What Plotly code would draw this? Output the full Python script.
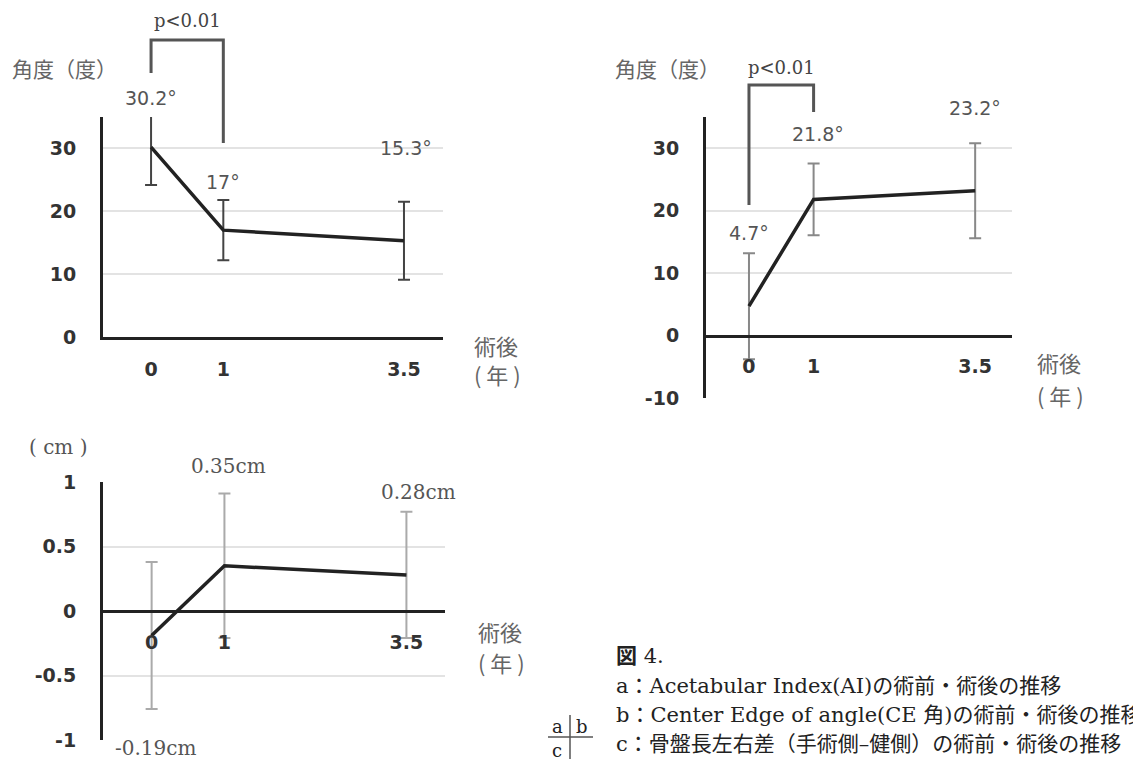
import plotly.graph_objects as go

W, H = 1141, 759
OFF = 8  # page body margin in the browser

# ---------------- data ----------------
years = [0, 1, 3.5]
year_labels = ["0", "1", "3.5"]

ai_mean = [30.2, 17, 15.3]        # a: Acetabular Index (deg)
ai_sd = [6.0, 4.8, 6.2]

ce_mean = [4.7, 21.8, 23.2]       # b: CE angle (deg)
ce_sd = [8.5, 5.75, 7.6]

pl_mean = [-0.19, 0.35, 0.28]     # c: pelvic length difference (cm)
pl_sd = [0.57, 0.56, 0.49]

ai_ticks = [0, 10, 20, 30]
ce_ticks = [-10, 0, 10, 20, 30]
pl_ticks = [-1, -0.5, 0, 0.5, 1]
pl_tick_text = ["-1", "-0.5", "0", "0.5", "1"]

sig_text = "p&lt;0.01"
caption_title = "<b>図</b> 4."
caption_lines = [
    "a：Acetabular Index(AI)の術前・術後の推移",
    "b：Center Edge of angle(CE 角)の術前・術後の推移",
    "c：骨盤長左右差（手術側–健側）の術前・術後の推移",
]

# ---------------- helpers ----------------
def fx(px):
    return (px - OFF) / W

def fy(py):
    return 1 - (py - OFF) / H

TICK_FONT = dict(family="DejaVu Sans", size=19, color="#333333", weight="bold")
LABEL_FONT = dict(family="DejaVu Sans", size=19, color="#555555")
SERIF_FONT = dict(family="DejaVu Serif, Noto Sans CJK JP", size=20, color="#555555")
JP_FONT = dict(family="Noto Sans CJK JP", size=21, color="#666666")
CAP_FONT = dict(family="DejaVu Serif, Noto Sans CJK JP", size=21, color="#222222")

LINE = dict(color="#222222", width=3.5)

fig = go.Figure()

fig.add_trace(go.Scatter(
    x=years, y=ai_mean, mode="lines", line=LINE, xaxis="x", yaxis="y",
    error_y=dict(type="data", array=ai_sd, color="#444444", thickness=2, width=6),
    showlegend=False, hoverinfo="skip"))
fig.add_trace(go.Scatter(
    x=years, y=ce_mean, mode="lines", line=LINE, xaxis="x2", yaxis="y2",
    error_y=dict(type="data", array=ce_sd, color="#888888", thickness=2, width=6),
    showlegend=False, hoverinfo="skip"))
fig.add_trace(go.Scatter(
    x=years, y=pl_mean, mode="lines", line=LINE, xaxis="x3", yaxis="y3",
    error_y=dict(type="data", array=pl_sd, color="#aaaaaa", thickness=2, width=6),
    showlegend=False, hoverinfo="skip"))

# panel pixel boxes: (left, right, top, bottom)
box_a = (103, 443, 117, 337)
box_b = (706, 1012, 117, 398)
box_c = (103, 445, 482, 740)

yr_a = [0, 35]
yr_b = [-10, 35]
yr_c = [-1, 1]

def zero_pos(box, yr):
    bottom = fy(box[3]); top = fy(box[2])
    return bottom + (0 - yr[0]) / (yr[1] - yr[0]) * (top - bottom)

def xaxis(box, rng, anchor, position=None):
    d = dict(domain=[fx(box[0]), fx(box[1])], range=rng,
             tickvals=years, ticktext=year_labels, ticks="",
             showline=True, linecolor="#222222", linewidth=3,
             showgrid=False, zeroline=False, tickfont=TICK_FONT,
             ticklabelstandoff=13, fixedrange=True, automargin=False)
    if position is None:
        d["anchor"] = anchor
    else:
        d["anchor"] = "free"
        d["position"] = position
    return d

def yaxis(box, rng, ticks, text, anchor):
    return dict(domain=[fy(box[3]), fy(box[2])], range=rng, anchor=anchor,
                tickvals=ticks, ticktext=text, ticks="",
                showline=True, linecolor="#222222", linewidth=3,
                showgrid=True, gridcolor="#e3e3e3", gridwidth=1.5,
                zeroline=False, tickfont=TICK_FONT, ticklabelstandoff=20,
                fixedrange=True, automargin=False)

fig.update_layout(
    template="none",
    width=W, height=H,
    margin=dict(l=0, r=0, t=0, b=0, pad=0, autoexpand=False),
    paper_bgcolor="white", plot_bgcolor="white",
    xaxis=xaxis(box_a, [-0.665, 4.04], "y"),
    yaxis=yaxis(box_a, yr_a, ai_ticks, [str(t) for t in ai_ticks], "x"),
    xaxis2=xaxis(box_b, [-0.665, 4.07], "y2", zero_pos(box_b, yr_b)),
    yaxis2=yaxis(box_b, yr_b, ce_ticks, [str(t) for t in ce_ticks], "x2"),
    xaxis3=xaxis(box_c, [-0.668, 4.03], "y3", zero_pos(box_c, yr_c)),
    yaxis3=yaxis(box_c, yr_c, pl_ticks, pl_tick_text, "x3"),
)

ann = []

def num(v):
    return ("%g" % v)

def paper_text(px, py, text, font, xanchor="left"):
    ann.append(dict(x=fx(px), y=fy(py), xref="paper", yref="paper",
                    xanchor=xanchor, yanchor="middle", text=text,
                    showarrow=False, font=font))

# value labels
a_shift = [(0, 49), (0, 48), (2, 93)]
for (xv, yv), (dx, dy) in zip(zip(years, ai_mean), a_shift):
    ann.append(dict(x=xv, y=yv, xref="x", yref="y", text=num(yv) + "°",
                    xanchor="center", yanchor="middle",
                    showarrow=False, xshift=dx, yshift=dy, font=LABEL_FONT))
b_shift = [(0, 73), (4, 65), (0, 83)]
for (xv, yv), (dx, dy) in zip(zip(years, ce_mean), b_shift):
    ann.append(dict(x=xv, y=yv, xref="x2", yref="y2", text=num(yv) + "°",
                    xanchor="center", yanchor="middle",
                    showarrow=False, xshift=dx, yshift=dy, font=LABEL_FONT))
c_shift = [(4, -112), (4, 100), (12, 83)]
for (xv, yv), (dx, dy) in zip(zip(years, pl_mean), c_shift):
    ann.append(dict(x=xv, y=yv, xref="x3", yref="y3", text=num(yv) + "cm",
                    xanchor="center", yanchor="middle",
                    showarrow=False, xshift=dx, yshift=dy, font=SERIF_FONT))

# axis titles
paper_text(10, 68, "角度（度）", JP_FONT)
paper_text(613, 68, "角度（度）", JP_FONT)
paper_text(27, 447, "( cm )", dict(SERIF_FONT, size=20))
for (xp, y1, y2) in [(472, 345, 374), (1035, 362, 395), (476, 631, 662)]:
    paper_text(xp, y1, "術後", dict(JP_FONT, size=22))
    paper_text(xp, y2, "( 年 )", dict(JP_FONT, size=22))

# significance brackets
shapes = []
BR = dict(color="#555555", width=3)
for (xr, top, lb, rb, ty) in [("x", 40, 73, 143, 21), ("x2", 85, 205, 112, 67)]:
    shapes.append(dict(type="path", xref=xr, yref="paper",
                       path=f"M {years[0]},{fy(lb)} L {years[0]},{fy(top)} L {years[1]},{fy(top)} L {years[1]},{fy(rb)}",
                       line=BR))
    ann.append(dict(x=(years[0] + years[1]) / 2, y=fy(ty), xref=xr, yref="paper",
                    xanchor="center", yanchor="middle",
                    text=sig_text, showarrow=False,
                    font=dict(family="DejaVu Serif", size=18, color="#444444")))

# caption
paper_text(614, 655, caption_title, CAP_FONT)
for i, line in enumerate(caption_lines):
    paper_text(614, 686 + 29 * i, line, CAP_FONT)

# panel key mark
small = dict(CAP_FONT, size=18)
paper_text(557, 726, "a", small, "center")
paper_text(582, 726, "b", small, "center")
paper_text(557, 750, "c", small, "center")
shapes.append(dict(type="line", xref="paper", yref="paper", x0=fx(548), x1=fx(593),
                   y0=fy(737), y1=fy(737), line=dict(color="#555555", width=1.5)))
shapes.append(dict(type="line", xref="paper", yref="paper", x0=fx(570), x1=fx(570),
                   y0=fy(715), y1=fy(762), line=dict(color="#555555", width=1.5)))

fig.update_layout(annotations=ann, shapes=shapes)
fig.write_html("out.html")
